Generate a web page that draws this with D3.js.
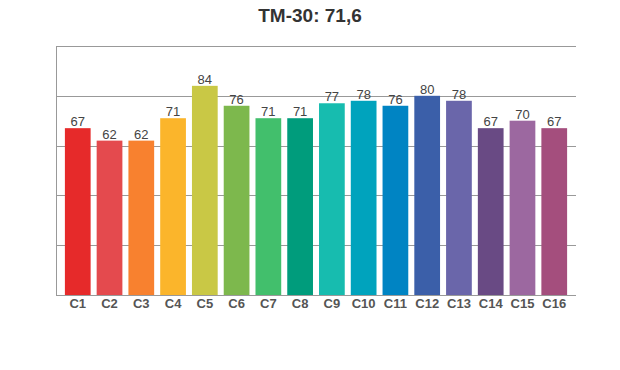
<!DOCTYPE html>
<html><head><meta charset="utf-8">
<script src="https://cdn.jsdelivr.net/npm/d3@7"></script>
<style>body{margin:0;background:#fff}svg{display:block}</style>
</head><body>
<script>
const categories = ["C1","C2","C3","C4","C5","C6","C7","C8","C9","C10","C11","C12","C13","C14","C15","C16"];
const values = [67,62,62,71,84,76,71,71,77,78,76,80,78,67,70,67];
const colors = ["#e62a2a","#e44a4e","#f8812f","#fbb52b","#c9c845","#7db84d","#42bf6c","#009c7c","#17bcaf","#00a3bd","#0084c3","#3b5fa9","#6a66aa","#694a84","#9c68a0","#a44e7d"];
const yTicks = [0,20,40,60,80,100];
const title = "TM-30: 71,6";

const W = 620, H = 370;
const m = {left:56, right:576, top:46, bottom:295};
const svg = d3.select("body").append("svg").attr("width",W).attr("height",H);

const x = d3.scaleBand().domain(categories).range([m.left, m.right]).paddingInner(0.19).paddingOuter(0.28);
const y = d3.scaleLinear().domain([0,100]).range([m.bottom, m.top]);

// gridlines
svg.append("g").selectAll("line").data(yTicks).join("line")
  .attr("x1", m.left).attr("x2", m.right)
  .attr("y1", d=>Math.round(y(d))+0.5).attr("y2", d=>Math.round(y(d))+0.5)
  .attr("stroke", "#999").attr("stroke-width",1);
// left axis line
svg.append("line").attr("x1",m.left+0.5).attr("x2",m.left+0.5)
  .attr("y1",m.top).attr("y2",m.bottom+0.5).attr("stroke","#999");

// bars
svg.append("g").selectAll("rect").data(values).join("rect")
  .attr("x",(d,i)=>x(categories[i])).attr("width",x.bandwidth())
  .attr("y",d=>y(d)).attr("height",d=>y(0)-y(d))
  .attr("fill",(d,i)=>colors[i]);

// value labels
svg.append("g").selectAll("text").data(values).join("text")
  .attr("x",(d,i)=>x(categories[i])+x.bandwidth()/2)
  .attr("y",d=>y(d)-2)
  .attr("text-anchor","middle")
  .attr("font-family","Liberation Sans, Arial, sans-serif")
  .attr("font-size",13).attr("fill","#444")
  .text(d=>d);

// x labels
const xa = d3.axisBottom(x).tickSize(0).tickPadding(0);
const gx = svg.append("g").attr("transform",`translate(0,${m.bottom})`).call(xa);
gx.select(".domain").remove();
gx.selectAll("text").attr("dy","0").attr("y",13)
  .attr("font-family","Liberation Sans, Arial, sans-serif")
  .attr("font-size",13).attr("font-weight","bold").attr("fill","#555");

// title
svg.append("text").attr("x",310).attr("y",22).attr("text-anchor","middle")
  .attr("font-family","Liberation Sans, Arial, sans-serif")
  .attr("font-size",19).attr("font-weight","bold").attr("fill","#333")
  .text(title);
</script>
</body></html>
